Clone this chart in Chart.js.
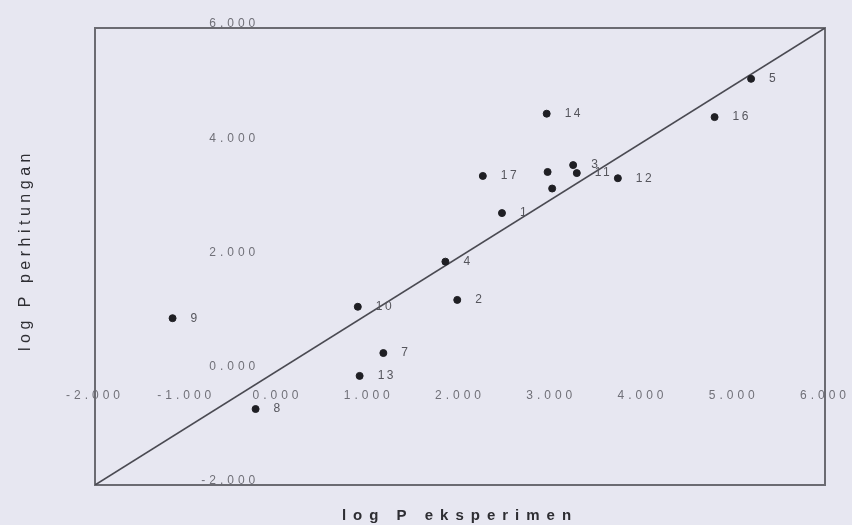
<!DOCTYPE html>
<html>
<head>
<meta charset="utf-8">
<script src="https://cdn.jsdelivr.net/npm/chart.js@4.4.0/dist/chart.umd.min.js"></script>
<style>
  html, body { margin: 0; padding: 0; background: #e7e7f1; }
  #wrap { width: 852px; height: 525px; }
</style>
</head>
<body>
<div id="wrap"><canvas id="main-chart" width="852" height="525"></canvas></div>
<script>
// compound numbers and their log P values (experiment vs calculated)
const compoundLabels = ['9', '8', '10', '7', '13', '2', '4', '1', '17', '14', '15', '6', '3', '11', '12', '16', '5'];
const logPExperiment = [-1.15, -0.24, 0.88, 1.16, 0.90, 1.97, 1.84, 2.46, 2.25, 2.95, 2.96, 3.01, 3.24, 3.28, 3.73, 4.79, 5.19];
const logPCalculated = [0.92, -0.67, 1.12, 0.31, -0.09, 1.24, 1.91, 2.76, 3.41, 4.50, 3.48, 3.19, 3.60, 3.46, 3.37, 4.44, 5.11];
// labels that are hidden under neighbours in the original
const hiddenLabels = ['15', '6'];

const xTicks = [-2, -1, 0, 1, 2, 3, 4, 5, 6];
const yTicks = [-2, 0, 2, 4, 6];
const identityLine = [-2, 6];

const points = logPExperiment.map((x, i) => ({ x: x, y: logPCalculated[i] }));

const framePlugin = {
  id: 'frame',
  beforeDraw(chart) {
    // wide spaced tick text like the original
    chart.ctx.letterSpacing = '4px';
  },
  beforeDatasetsDraw(chart) {
    const { ctx, chartArea: a } = chart;
    ctx.letterSpacing = '0px';
    ctx.save();
    ctx.strokeStyle = '#6b6b72';
    ctx.lineWidth = 2;
    ctx.strokeRect(a.left, a.top, a.right - a.left, a.bottom - a.top);
    ctx.restore();
  },
  afterDraw(chart) {
    const { ctx } = chart;
    ctx.save();
    ctx.fillStyle = '#2e2e33';
    ctx.font = 'bold 15px "Liberation Sans", Arial, sans-serif';
    ctx.letterSpacing = '7px';
    ctx.textAlign = 'center';
    ctx.textBaseline = 'middle';
    ctx.fillText('log P eksperimen', 460, 516);
    ctx.translate(26, 250);
    ctx.rotate(-Math.PI / 2);
    ctx.letterSpacing = '4.5px';
    ctx.font = '16px "Liberation Sans", Arial, sans-serif';
    ctx.fillText('log P perhitungan', 0, 0);
    ctx.restore();
  }
};

const pointLabelPlugin = {
  id: 'pointLabels',
  afterDatasetsDraw(chart) {
    const { ctx } = chart;
    const meta = chart.getDatasetMeta(0);
    ctx.save();
    ctx.fillStyle = '#55555c';
    ctx.font = '12px "Liberation Sans", Arial, sans-serif';
    ctx.letterSpacing = '2.5px';
    ctx.textBaseline = 'middle';
    meta.data.forEach((el, i) => {
      const lbl = compoundLabels[i];
      if (hiddenLabels.includes(lbl)) return;
      ctx.fillText(lbl, el.x + 18, el.y);
    });
    ctx.restore();
  }
};

const tickFont = { family: '"Liberation Sans", Arial, sans-serif', size: 12 };

new Chart(document.getElementById('main-chart').getContext('2d'), {
  type: 'scatter',
  data: {
    datasets: [{
      data: points,
      backgroundColor: '#1f1f24',
      borderColor: '#1f1f24',
      pointRadius: 3.5,
      pointHoverRadius: 3.5
    }, {
      type: 'line',
      data: identityLine.map(v => ({ x: v, y: v })),
      borderColor: '#4a4a52',
      borderWidth: 1.6,
      pointRadius: 0,
      fill: false
    }]
  },
  options: {
    responsive: false,
    animation: false,
    layout: { padding: { left: 95, top: 28, right: 27, bottom: 40 } },
    plugins: {
      legend: { display: false },
      tooltip: { enabled: false }
    },
    scales: {
      x: {
        type: 'linear',
        min: -2, max: 6,
        position: { y: 0 },
        afterBuildTicks: s => { s.ticks = xTicks.map(v => ({ value: v })); },
        grid: { display: true, drawOnChartArea: false, color: 'rgba(0,0,0,0)', tickLength: 18 },
        border: { display: false },
        ticks: {
          autoSkip: false,
          maxRotation: 0,
          padding: 0,
          color: '#707078',
          font: tickFont,
          callback: v => v.toFixed(3)
        }
      },
      y: {
        type: 'linear',
        min: -2, max: 6,
        // labels sit a little left of the zero line, as in the original
        position: { x: -0.2 },
        afterBuildTicks: s => { s.ticks = yTicks.map(v => ({ value: v })); },
        grid: { display: false },
        border: { display: false },
        ticks: {
          autoSkip: false,
          padding: 0,
          labelOffset: -4,
          color: '#707078',
          font: tickFont,
          callback: v => v.toFixed(3)
        }
      }
    }
  },
  plugins: [framePlugin, pointLabelPlugin]
});
</script>
</body>
</html>
